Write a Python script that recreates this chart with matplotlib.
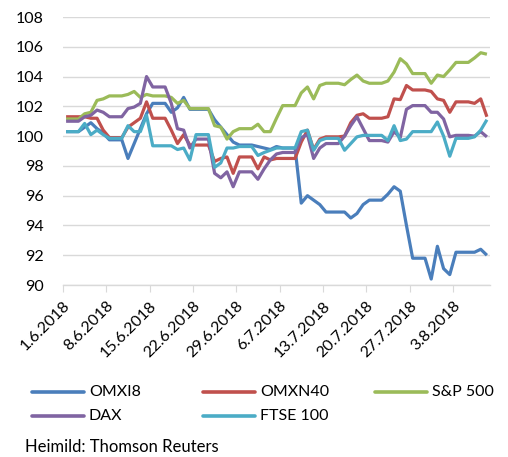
import matplotlib
matplotlib.use("Agg")
import matplotlib.pyplot as plt
import matplotlib.dates as mdates
from matplotlib.lines import Line2D
import pandas as pd

plt.rcParams["font.family"] = ["Lato", "DejaVu Sans"]

# one value per calendar day, 1.6.2018 - 8.8.2018 (weekends repeat Friday)
dates = pd.date_range("2018-06-01", "2018-08-08", freq="D")

omxi8 = [100.3, 100.3, 100.3, 100.6, 100.9, 100.5, 100.2,
         99.75, 99.75, 99.75, 98.5, 99.5, 100.5, 101.5,
         102.2, 102.2, 102.2, 101.6, 101.9, 102.6, 101.8,
         101.8, 101.8, 101.8, 101.1, 100.6, 100.1, 99.6,
         99.4, 99.4, 99.4, 99.3, 99.2, 99.1, 99.3,
         99.2, 99.2, 99.2, 95.5, 96.0, 95.7, 95.4,
         94.9, 94.9, 94.9, 94.9, 94.5, 94.8, 95.4,
         95.7, 95.7, 95.7, 96.1, 96.6, 96.3, 94.0,
         91.8, 91.8, 91.8, 90.4, 92.6, 91.1, 90.7,
         92.2, 92.2, 92.2, 92.2, 92.4, 92.0]

omxn40 = [101.3, 101.3, 101.3, 101.3, 101.2, 101.2, 100.4,
          99.9, 99.9, 99.9, 100.6, 100.9, 101.2, 102.3,
          101.2, 101.2, 101.2, 100.4, 99.5, 100.1, 99.4,
          99.4, 99.4, 99.4, 98.3, 98.5, 98.6, 97.5,
          98.6, 98.6, 98.6, 97.8, 98.6, 98.4, 98.5,
          98.5, 98.5, 98.5, 99.6, 100.4, 99.1, 99.8,
          99.95, 99.95, 99.95, 100.0, 100.9, 101.4, 101.5,
          101.2, 101.2, 101.2, 101.3, 102.5, 102.45, 103.4,
          103.1, 103.1, 103.1, 103.0, 102.5, 102.4, 101.6,
          102.3, 102.3, 102.3, 102.2, 102.5, 101.3]

sp500 = [101.15, 101.15, 101.15, 101.5, 101.6, 102.4, 102.5,
         102.7, 102.7, 102.7, 102.8, 103.0, 102.6, 102.8,
         102.7, 102.7, 102.7, 102.6, 102.2, 102.4, 101.85,
         101.85, 101.85, 101.85, 100.7, 100.6, 99.8, 100.3,
         100.5, 100.5, 100.5, 100.8, 100.3, 100.3, 101.2,
         102.05, 102.05, 102.05, 102.9, 103.3, 102.5, 103.4,
         103.55, 103.55, 103.55, 103.45, 103.8, 104.1, 103.7,
         103.55, 103.55, 103.55, 103.7, 104.3, 105.2, 104.85,
         104.2, 104.2, 104.2, 103.55, 104.1, 104.0, 104.45,
         104.95, 104.95, 104.95, 105.25, 105.6, 105.5]

dax = [101.0, 101.0, 101.0, 101.3, 101.4, 101.75, 101.6,
       101.3, 101.3, 101.3, 101.85, 101.95, 102.2, 104.0,
       103.3, 103.3, 103.3, 102.2, 100.5, 100.4, 99.2,
       99.8, 99.8, 99.8, 97.5, 97.2, 97.6, 96.6,
       97.6, 97.6, 97.6, 97.1, 97.8, 98.4, 98.8,
       98.9, 98.9, 98.9, 99.9, 100.1, 98.5, 99.2,
       99.5, 99.5, 99.5, 100.0, 100.7, 101.3, 100.5,
       99.7, 99.7, 99.7, 99.6, 100.3, 99.9, 101.8,
       102.05, 102.05, 102.05, 101.6, 101.6, 101.15, 99.95,
       100.05, 100.05, 100.05, 100.0, 100.3, 99.95]

ftse100 = [100.3, 100.3, 100.3, 100.85, 100.1, 100.4, 100.1,
           99.85, 99.85, 99.85, 100.7, 100.3, 100.3, 101.4,
           99.35, 99.35, 99.35, 99.35, 99.1, 99.2, 98.4,
           100.1, 100.1, 100.1, 97.9, 98.2, 99.2, 99.2,
           99.3, 99.3, 99.3, 98.7, 98.9, 99.05, 99.2,
           99.2, 99.2, 99.2, 100.3, 100.4, 99.05, 99.7,
           99.85, 99.85, 99.85, 99.05, 99.5, 99.95, 100.05,
           100.05, 100.05, 100.05, 99.7, 100.7, 99.7, 99.8,
           100.3, 100.3, 100.3, 100.3, 100.95, 100.0, 98.65,
           99.85, 99.85, 99.85, 99.95, 100.4, 101.1]

series = [
    ("OMXI8", omxi8, "#4A7EBB"),
    ("OMXN40", omxn40, "#C0504D"),
    ("S&P 500", sp500, "#9BBB59"),
    ("DAX", dax, "#8064A2"),
    ("FTSE 100", ftse100, "#4BACC6"),
]

tick_dates = pd.date_range("2018-06-01", "2018-08-03", freq="7D")
tick_labels = [f"{d.day}.{d.month}.{d.year}" for d in tick_dates]

fig = plt.figure(figsize=(5.08, 4.57), dpi=100)
ax = fig.add_axes([63 / 508, 1 - 285 / 457, 427 / 508, 268 / 457])

# points sit in the middle of each day slot (Excel date axis)
x = dates + pd.Timedelta(hours=12)
for name, vals, col in series:
    ax.plot(x, vals, color=col, lw=2.3, solid_joinstyle="round",
            solid_capstyle="butt")

ax.set_ylim(90, 108)
ax.set_yticks(range(90, 109, 2))
ax.set_xlim(pd.Timestamp("2018-06-01"), pd.Timestamp("2018-08-09"))
ax.set_xticks(tick_dates)
ax.set_xticklabels(tick_labels, rotation=45, ha="right",
                   rotation_mode="anchor", fontsize=11.5)
ax.grid(axis="y", color="#D9D9D9", lw=1)
ax.set_axisbelow(True)
for s in ["left", "right", "top"]:
    ax.spines[s].set_visible(False)
ax.spines["bottom"].set_color("#D9D9D9")
ax.spines["bottom"].set_linewidth(1)
ax.tick_params(axis="x", length=5, color="#D9D9D9", pad=5, labelcolor="#000000")
ax.tick_params(axis="y", length=0, pad=14, labelsize=11.5)

# legend, laid out by hand in pixel positions like the original
leg_pos = [(32, 392), (203, 392), (375, 392), (32, 416), (203, 416)]
for (name, vals, col), (lx, ly) in zip(series, leg_pos):
    fy = 1 - ly / 457
    fig.add_artist(Line2D([lx / 508, (lx + 52) / 508], [fy, fy], color=col,
                          lw=2.6, solid_capstyle="round"))
    fig.text((lx + 57) / 508, fy, name, fontsize=11.5, va="center")

fig.text(25 / 508, 1 - 447 / 457, "Heimild: Thomson Reuters", fontsize=12,
         va="center")

fig.savefig("out.png", dpi=100)
